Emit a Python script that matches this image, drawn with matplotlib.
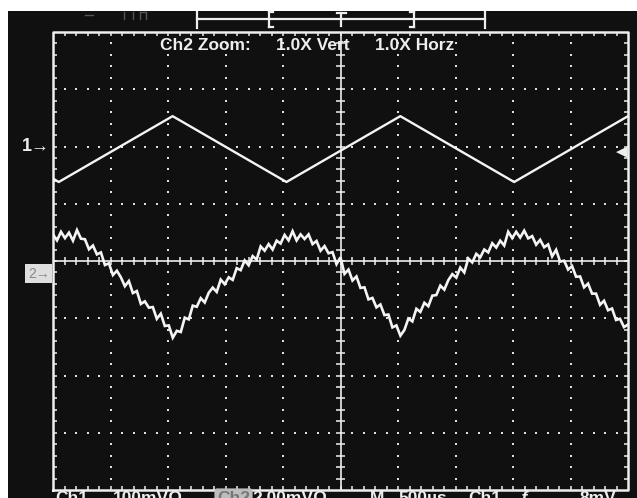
import numpy as np
import matplotlib
matplotlib.use("Agg")
import matplotlib.pyplot as plt
from matplotlib.lines import Line2D
from matplotlib.collections import LineCollection

# ---- channel settings ----
time_per_div_us = 500.0
ch1_volts_per_div_mv = 100.0
ch2_volts_per_div_mv = 2.00
ch1_offset_div = 2.0
ch2_offset_div = -0.22

# ---- Ch1: triangle reference (time in us, level in mV) ----
ch1_t_us = [0, 50, 1040, 2030, 3020, 4010, 5000]
ch1_mv = [-56, -62, 53, -62, 53, -62, 53]

# ---- Ch2: measured response, one sample every 5000/144 us (mV) ----
ch2_mv = [
    1.37, 1.16, 1.46, 1.24, 1.43, 1.15, 1.52, 1.22, 1.20, 0.85,
    0.98, 0.67, 0.74, 0.30, 0.36, -0.05, 0.10, -0.13, -0.44, -0.26,
    -0.68, -0.61, -1.06, -0.97, -1.19, -1.17, -1.58, -1.40, -1.83, -1.81,
    -2.24, -2.00, -2.04, -1.54, -1.60, -1.12, -1.16, -0.86, -1.01, -0.67,
    -0.49, -0.64, -0.21, -0.37, -0.13, -0.22, 0.19, 0.12, 0.46, 0.29,
    0.61, 0.49, 0.95, 0.80, 1.03, 0.84, 1.15, 1.05, 1.35, 1.16,
    1.48, 1.16, 1.37, 1.21, 1.37, 1.03, 1.14, 0.80, 0.96, 0.71,
    0.75, 0.33, 0.57, -0.01, 0.14, -0.24, -0.10, -0.50, -0.48, -0.90,
    -0.85, -1.18, -1.08, -1.45, -1.43, -1.88, -1.81, -2.17, -1.97, -1.57,
    -1.67, -1.23, -1.34, -1.02, -1.14, -0.77, -0.75, -0.42, -0.56, -0.23,
    -0.02, -0.14, 0.21, 0.04, 0.53, 0.39, 0.69, 0.57, 0.84, 0.74,
    1.06, 0.91, 1.15, 0.98, 1.46, 1.24, 1.46, 1.26, 1.50, 1.23,
    1.31, 1.01, 1.18, 0.92, 1.02, 0.60, 0.83, 0.42, 0.45, 0.14,
    0.26, -0.11, -0.10, -0.48, -0.35, -0.70, -0.70, -1.09, -0.95, -1.28,
    -1.22, -1.62, -1.58, -1.87, -1.78,
]
ch2_t_us = np.linspace(0, 5000, len(ch2_mv))

# ---- readout text ----
zoom_labels = ["Ch2 Zoom:", "1.0X Vert", "1.0X Horz"]
readout_labels = ["Ch1", "100mV\u03a9", "Ch2", "2.00mV\u03a9", "M", "500\u00b5s", "Ch1", "\u0192", "8mV"]

W, H = 637, 498
FG = "#eeeeee"
BG = "#101010"
plt.rcParams["font.family"] = ["Liberation Sans", "DejaVu Sans"]

fig = plt.figure(figsize=(W / 100, H / 100), dpi=100, facecolor="white")


def fx(x):
    return x / W


def fy(y):
    return 1 - y / H


# dark screen area (behind everything)
fig.patches.append(plt.Rectangle((fx(8), 0), 1 - fx(8), fy(11), transform=fig.transFigure,
                                 facecolor=BG, edgecolor="none", zorder=-10))

ax = fig.add_axes([fx(53), fy(490), (628 - 53) / W, (490 - 32) / H])
ax.set_facecolor(BG)
ax.set_xlim(0, 10)
ax.set_ylim(-4, 4)
ax.axis("off")

# graticule: dotted division lines
minor = np.round(np.arange(0.2, 10, 0.2), 1)
minor_y = np.round(np.arange(-3.8, 4, 0.2), 1)
dots_x, dots_y = [], []
for gx in range(1, 10):
    if gx == 5:
        continue
    dots_x += [gx] * len(minor_y)
    dots_y += list(minor_y)
for gy in range(-3, 4):
    if gy == 0:
        continue
    dots_x += list(minor)
    dots_y += [gy] * len(minor)
ax.scatter(dots_x, dots_y, s=3.6, marker="s", color="#e0e0e0", linewidths=0, zorder=2)

# center cross with tick marks
ax.plot([0, 10], [0, 0], color=FG, lw=1.2, zorder=2)
ax.plot([5, 5], [-4, 4], color=FG, lw=1.2, zorder=2)
segs = []
for v in minor:
    segs.append([(v, -0.07), (v, 0.07)])
for v in minor_y:
    segs.append([(4.93, v), (5.07, v)])
# inward border ticks
for v in minor:
    segs.append([(v, 4), (v, 3.93)])
    segs.append([(v, -4), (v, -3.93)])
for v in minor_y:
    segs.append([(0, v), (0.07, v)])
    segs.append([(10, v), (9.93, v)])
ax.add_collection(LineCollection(segs, colors=FG, linewidths=1.1, zorder=2))

# border
ax.plot([0, 10, 10, 0, 0], [-4, -4, 4, 4, -4], color=FG, lw=1.8, zorder=3, clip_on=False)

# waveforms
ch1_div = ch1_offset_div + np.array(ch1_mv) / ch1_volts_per_div_mv
ax.plot(np.array(ch1_t_us) / time_per_div_us, ch1_div, color="#f4f4f4", lw=1.7, zorder=4)
ch2_div = ch2_offset_div + np.array(ch2_mv) / ch2_volts_per_div_mv
ax.plot(ch2_t_us / time_per_div_us, ch2_div, color="#f4f4f4", lw=1.9, zorder=4,
        solid_joinstyle="miter")

# channel ground markers
ax.text(-0.05, ch1_offset_div, "1\u2192", color=FG, fontsize=13, fontweight="bold",
        ha="right", va="center", clip_on=False)
ax.text(-0.06, ch2_offset_div, "2\u2192", color="#888888", fontsize=10,
        ha="right", va="center", clip_on=False,
        bbox=dict(boxstyle="square,pad=0.18", facecolor="#dedede", edgecolor="none"))
# trigger level marker
fig.text(fx(628), fy(152), "\u25c0", color=FG, fontsize=11, ha="right", va="center",
         family="DejaVu Sans")

# zoom readout
for label, x in zip(zoom_labels, [160, 276, 375]):
    fig.text(fx(x), fy(46), label, color=FG, fontsize=12.5, fontweight="bold",
             ha="left", va="center")

# bottom readout (partly below the frame edge)
for label, x in zip(readout_labels, [55, 113, 217, 252, 370, 398, 468, 520, 580]):
    kw = {}
    color = FG
    if label == "Ch2":
        color = "#777777"
        kw["bbox"] = dict(boxstyle="round,pad=0.15", facecolor="#bdbdbd", edgecolor="none")
    fig.text(fx(x), fy(491), label, color=color, fontsize=12.5, fontweight="bold",
             ha="left", va="top", **kw)

# trigger position bar across the top
bar = [((197, 19), (485, 19)), ((197, 12), (197, 28)), ((485, 12), (485, 28)),
       ((269, 12), (269, 27)), ((269, 12), (273, 12)), ((269, 27), (273, 27)),
       ((414, 12), (414, 27)), ((410, 12), (414, 12)), ((410, 27), (414, 27)),
       ((341, 13), (341, 26)), ((337, 13), (346, 13))]
for (x0, y0), (x1, y1) in bar:
    fig.add_artist(Line2D([fx(x0), fx(x1)], [fy(y0), fy(y1)], color=FG, lw=1.6,
                          transform=fig.transFigure))
# faint status marks at top left
for (x0, y0), (x1, y1) in [((85, 15), (93, 15)), ((124, 12), (124, 19)),
                           ((133, 12), (133, 19)), ((140, 12), (140, 19)),
                           ((146, 12), (146, 19)), ((140, 12), (146, 12))]:
    fig.add_artist(Line2D([fx(x0), fx(x1)], [fy(y0), fy(y1)], color="#555555", lw=1.0,
                          transform=fig.transFigure))

fig.savefig("out.png", dpi=100, facecolor="white")
